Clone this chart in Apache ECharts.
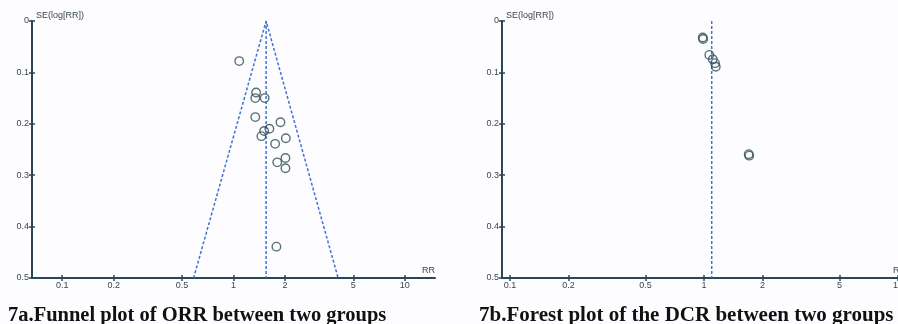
<!DOCTYPE html>
<html>
<head>
<meta charset="utf-8">
<script src="https://cdn.jsdelivr.net/npm/echarts@6/dist/echarts.min.js"></script>
<style>html,body{margin:0;padding:0;background:#fdfdff}#c{width:898px;height:324px}</style>
</head>
<body>
<div id="c"></div>
<script>
// ---- data ----
const xTickValues = [0.1, 0.2, 0.5, 1, 2, 5, 10];
const yTickValues = [0, 0.1, 0.2, 0.3, 0.4, 0.5];

// 7a: ORR funnel plot
const orrRR = [1.08, 1.355, 1.34, 1.52, 1.34, 1.88, 1.62, 1.51, 1.455, 2.02, 1.75, 2.01, 1.80, 2.01, 1.78];
const orrSE = [0.078, 0.139, 0.150, 0.150, 0.187, 0.197, 0.2095, 0.214, 0.224, 0.228, 0.239, 0.2665, 0.275, 0.2866, 0.439];
const orrPooledRR = 1.55;
const orrFunnelRR = [0.585, 1.55, 4.08];
const orrFunnelSE = [0.5, 0, 0.5];

// 7b: DCR plot
const dcrRR = [0.985, 0.99, 1.065, 1.11, 1.14, 1.15, 1.70, 1.71];
const dcrSE = [0.032, 0.035, 0.066, 0.0745, 0.082, 0.089, 0.259, 0.262];
const dcrPooledRR = 1.096;

const titles = ['7a.Funnel plot of ORR between two groups', '7b.Forest plot of the DCR between two groups'];

// ---- styles ----
const axisCol = '#2b4753';
const labelCol = '#3a474d';
const dashCol = '#3f72d8';
const dotCol = '#2f4e52';
const lblFont = {color: labelCol, fontSize: 9, fontFamily: 'Liberation Sans, Arial, sans-serif'};

const zip = (a, b) => a.map((v, i) => [v, b[i]]);
const fmt = v => String(parseFloat(Number(v).toPrecision(6)));

function xAxes(gi, min, max) {
  return [{
    gridIndex: gi, type: 'log', logBase: 10, min: min, max: max, position: 'bottom',
    name: 'RR', nameLocation: 'end', nameGap: 0,
    nameTextStyle: Object.assign({}, lblFont, {align: 'right', verticalAlign: 'bottom', padding: [0, 0, 3, 0]}),
    axisLine: {show: true, onZero: false, lineStyle: {color: axisCol, width: 2}},
    axisTick: {show: true, inside: false, length: 3, lineStyle: {color: axisCol, width: 1.5}, customValues: xTickValues},
    axisLabel: Object.assign({show: true, margin: 3, formatter: fmt, customValues: xTickValues}, lblFont),
    splitLine: {show: false}, minorTick: {show: false}
  }, {
    gridIndex: gi, type: 'log', logBase: 10, min: min, max: max, position: 'bottom',
    axisLine: {show: false, onZero: false},
    axisTick: {show: true, inside: true, length: 3, lineStyle: {color: axisCol, width: 1.5}, customValues: xTickValues},
    axisLabel: {show: false}, splitLine: {show: false}
  }];
}
function yAxes(gi) {
  return [{
    gridIndex: gi, type: 'value', min: 0, max: 0.5, interval: 0.1, inverse: true, position: 'left',
    name: 'SE(log[RR])', nameLocation: 'start', nameGap: 1,
    nameTextStyle: Object.assign({}, lblFont, {align: 'left', verticalAlign: 'bottom', padding: [0, 0, 0, 4]}),
    axisLine: {show: true, onZero: false, lineStyle: {color: axisCol, width: 2}},
    axisTick: {show: true, inside: false, length: 3, lineStyle: {color: axisCol, width: 1.5}},
    axisLabel: Object.assign({show: true, margin: 3, formatter: fmt}, lblFont),
    splitLine: {show: false}
  }, {
    gridIndex: gi, type: 'value', min: 0, max: 0.5, interval: 0.1, inverse: true, position: 'left',
    axisLine: {show: false, onZero: false},
    axisTick: {show: true, inside: true, length: 3, lineStyle: {color: axisCol, width: 1.5}},
    axisLabel: {show: false}, splitLine: {show: false}
  }];
}

const dashLine = {color: dashCol, width: 1.5, type: [3, 2]};
const scatterStyle = {color: 'transparent', borderColor: dotCol, borderWidth: 1.4};

const option = {
  backgroundColor: '#fdfdff',
  animation: false,
  grid: [
    {left: 32, top: 21, width: 403, height: 257, outerBoundsMode: 'none', containLabel: false},
    {left: 502, top: 21, width: 404, height: 257, outerBoundsMode: 'none', containLabel: false}
  ],
  xAxis: [...xAxes(0, 1 / 15, 15), ...xAxes(1, 1 / 11, 11)],
  yAxis: [...yAxes(0), ...yAxes(1)],
  graphic: [
    {type: 'text', left: 8, top: 305, style: {text: titles[0], fill: '#111', font: 'bold 20.5px "Liberation Serif", "Times New Roman", serif'}},
    {type: 'text', left: 479, top: 305, style: {text: titles[1], fill: '#111', font: 'bold 21px "Liberation Serif", "Times New Roman", serif'}}
  ],
  series: [
    {type: 'line', xAxisIndex: 0, yAxisIndex: 0, data: zip(orrFunnelRR, orrFunnelSE), symbol: 'none', lineStyle: dashLine, z: 2},
    {type: 'line', xAxisIndex: 0, yAxisIndex: 0, data: [[orrPooledRR, 0], [orrPooledRR, 0.5]], symbol: 'none', lineStyle: dashLine, z: 2},
    {type: 'scatter', xAxisIndex: 0, yAxisIndex: 0, data: zip(orrRR, orrSE), symbol: 'circle', symbolSize: 8.5, itemStyle: scatterStyle, z: 3},
    {type: 'line', xAxisIndex: 2, yAxisIndex: 2, data: [[dcrPooledRR, 0], [dcrPooledRR, 0.5]], symbol: 'none', lineStyle: dashLine, z: 2},
    {type: 'scatter', xAxisIndex: 2, yAxisIndex: 2, data: zip(dcrRR, dcrSE), symbol: 'circle', symbolSize: 8.5, itemStyle: scatterStyle, z: 3}
  ]
};
const chart = echarts.init(document.getElementById('c'), null, {renderer: 'canvas'});
chart.setOption(option);
</script>
</body>
</html>
